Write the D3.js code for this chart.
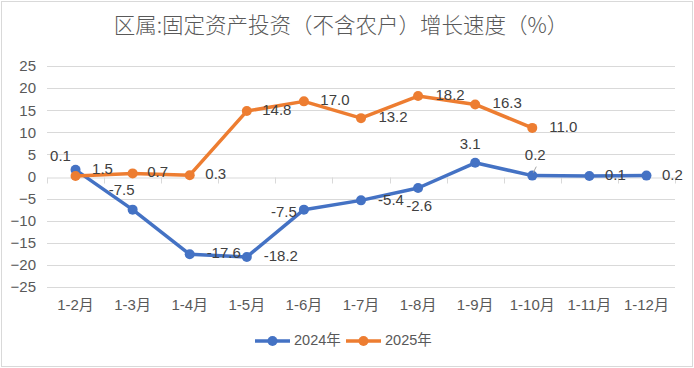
<!DOCTYPE html>
<html><head><meta charset="utf-8">
<script src="https://cdn.jsdelivr.net/npm/d3@7"></script>
<style>body{margin:0;background:#fff}svg{display:block}</style>
</head><body><div id="chart"></div>
<script>
const categories = ['1-2月','1-3月','1-4月','1-5月','1-6月','1-7月','1-8月','1-9月','1-10月','1-11月','1-12月'];
const series2024 = [1.5,-7.5,-17.6,-18.2,-7.5,-5.4,-2.6,3.1,0.2,0.1,0.2];
const series2025 = [0.1,0.7,0.3,14.8,17.0,13.2,18.2,16.3,11.0];
const yTicks = [-25,-20,-15,-10,-5,0,5,10,15,20,25];
const seriesNames = ['2024年','2025年'];
const title = '区属:固定资产投资（不含农户）增长速度（%）';

// label layout (offsets from point, in px)
const labelOffsets2024 = [[27,0],[-11,-19],[34,0],[34,0],[-20,3],[30,1],[1,19],[-5,-18],[3,-20],[26,0],[26,0]];
const labelOffsets2025 = [[-15,-19],[25,0],[26,0],[30,0],[31,0],[32,0],[32,0],[32,0],[31,0]];

const W=694,H=368;
const margin={left:47,right:19,top:66,bottom:81};
const svg=d3.select('#chart').append('svg').attr('width',W).attr('height',H);
svg.append('rect').attr('x',1.5).attr('y',1.5).attr('width',W-3).attr('height',H-3)
  .attr('fill','#fff').attr('stroke','#d9d9d9').attr('stroke-width',1);

const x=d3.scaleBand().domain(categories).range([margin.left,W-margin.right]);
const y=d3.scaleLinear().domain([-25,25]).range([H-margin.bottom,margin.top]);
const font='"Liberation Sans","Noto Sans CJK SC",sans-serif';

svg.append('text').attr('x',W/2-6).attr('y',27).attr('text-anchor','middle').attr('dominant-baseline','middle')
  .attr('font-family','"Noto Sans CJK SC","Liberation Sans",sans-serif').attr('font-size',21.5).attr('font-weight',300).attr('fill','#595959').text(title);

// gridlines
svg.append('g').selectAll('line').data(yTicks.filter(d=>d!==0)).join('line')
  .attr('x1',margin.left).attr('x2',W-margin.right)
  .attr('y1',d=>Math.round(y(d))+0.5).attr('y2',d=>Math.round(y(d))+0.5)
  .attr('stroke','#d9d9d9').attr('stroke-width',1);

// y axis labels
const yAxis=d3.axisLeft(y).tickValues(yTicks).tickSize(0).tickPadding(11);
const gy=svg.append('g').attr('transform',`translate(${margin.left},0)`).call(yAxis);
gy.select('.domain').remove();
gy.selectAll('text').attr('font-family',font).attr('font-size',15).attr('fill','#595959');

// zero axis with category tick marks
const y0=Math.round(y(0))+0.5;
const xAxis=d3.axisBottom(x).tickSize(0).tickSizeOuter(0);
const gx=svg.append('g').attr('transform',`translate(0,${y0})`).call(xAxis);
gx.select('.domain').attr('stroke','#d9d9d9');
gx.selectAll('.tick').remove();
const bounds=categories.map(c=>x(c)).concat([x.range()[1]]);
svg.append('g').selectAll('line').data(bounds).join('line')
  .attr('x1',d=>Math.round(d)+0.5).attr('x2',d=>Math.round(d)+0.5).attr('y1',y0).attr('y2',y0+6)
  .attr('stroke','#d9d9d9');

// category labels at bottom
svg.append('g').selectAll('text').data(categories).join('text')
  .attr('x',d=>x(d)+x.bandwidth()/2).attr('y',306).attr('text-anchor','middle').attr('dominant-baseline','middle')
  .attr('font-family',font).attr('font-size',15).attr('fill','#595959').text(d=>d);

const colors=['#4472C4','#ED7D31'];
const cx=i=>x(categories[i])+x.bandwidth()/2;
const line=d3.line().x((d,i)=>cx(i)).y(d=>y(d));

[series2024,series2025].forEach((s,k)=>{
  svg.append('path').datum(s).attr('d',line).attr('fill','none').attr('stroke',colors[k])
    .attr('stroke-width',3.5).attr('stroke-linejoin','round').attr('stroke-linecap','round');
  svg.append('g').selectAll('circle').data(s).join('circle')
    .attr('cx',(d,i)=>cx(i)).attr('cy',d=>y(d)).attr('r',5).attr('fill',colors[k]);
});

// data labels
[[series2024,labelOffsets2024],[series2025,labelOffsets2025]].forEach(([s,off])=>{
  svg.append('g').selectAll('text').data(s).join('text')
    .attr('x',(d,i)=>cx(i)+off[i][0]).attr('y',(d,i)=>y(d)+off[i][1])
    .attr('text-anchor','middle').attr('dominant-baseline','middle')
    .attr('font-family',font).attr('font-size',15).attr('fill','#404040')
    .text(d=>d.toFixed(1));
});
// small leader for 1-10 label
svg.append('line').attr('x1',cx(8)+1).attr('y1',y(series2024[8])-3).attr('x2',cx(8)+4).attr('y2',y(series2024[8])-9)
  .attr('stroke','#a6a6a6').attr('stroke-width',1);

// legend
const legend=svg.append('g');
const lx=[255,346], ly=341;
seriesNames.forEach((n,k)=>{
  legend.append('line').attr('x1',lx[k]).attr('x2',lx[k]+35).attr('y1',ly).attr('y2',ly)
    .attr('stroke',colors[k]).attr('stroke-width',3.5);
  legend.append('circle').attr('cx',lx[k]+17.5).attr('cy',ly).attr('r',5).attr('fill',colors[k]);
  legend.append('text').attr('x',lx[k]+39).attr('y',ly).attr('dominant-baseline','middle')
    .attr('font-family',font).attr('font-size',14.5).attr('fill','#595959').text(n);
});
</script></body></html>
